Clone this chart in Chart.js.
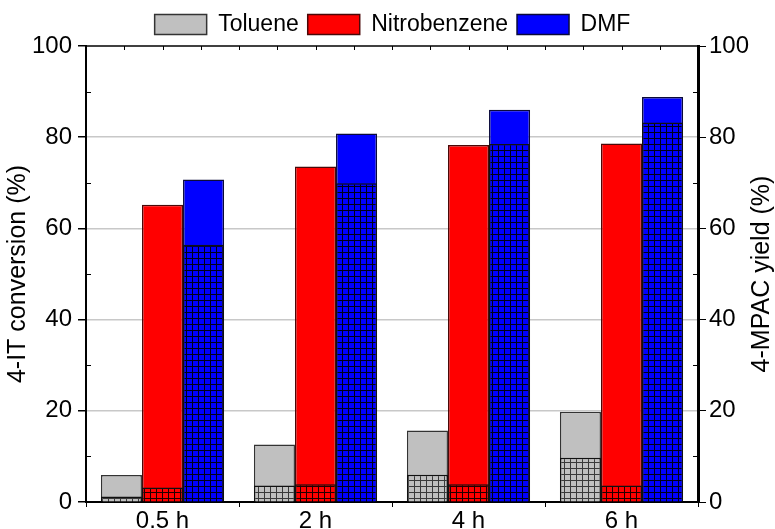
<!DOCTYPE html>
<html>
<head>
<meta charset="utf-8">
<script src="https://cdn.jsdelivr.net/npm/chart.js@4/dist/chart.umd.min.js"></script>
<style>
html, body { margin: 0; padding: 0; background: #fff; }
</style>
</head>
<body>
<canvas id="chart" width="775" height="529"></canvas>
<script>
var times = ['0.5 h', '2 h', '4 h', '6 h'];
var solvents = ['Toluene', 'Nitrobenzene', 'DMF'];

// 4-IT conversion (%)
var convToluene = [5.9, 12.6, 15.7, 19.8];
var convNitro = [65.2, 73.6, 78.3, 78.6];
var convDMF = [70.7, 80.8, 86.0, 88.8];

// 4-MPAC yield (%)
var yieldToluene = [1.2, 3.6, 6.0, 9.7];
var yieldNitro = [3.2, 3.9, 3.9, 3.6];
var yieldDMF = [56.4, 69.9, 78.5, 83.2];

var yTicks = [0, 20, 40, 60, 80, 100];
var yMinor = [10, 30, 50, 70, 90];

var fillColors = ['#c0c0c0', '#ff0000', '#0000ff'];
var edgeColors = ['#333333', '#4a0808', '#0a0a3a'];
var FONT = '"Liberation Sans", Arial, sans-serif';

// grid hatch used for the yield part of each bar
function hatch(color, line) {
    var c = document.createElement('canvas');
    c.width = 6; c.height = 6;
    var g = c.getContext('2d');
    g.fillStyle = color;
    g.fillRect(0, 0, 6, 6);
    g.fillStyle = line;
    g.fillRect(0, 0, 6, 1);
    g.fillRect(0, 0, 1, 6);
    return g.createPattern(c, 'repeat');
}

var convData = [convToluene, convNitro, convDMF];
var yieldData = [yieldToluene, yieldNitro, yieldDMF];
var hatchLines = ['#3a3a3a', '#220000', '#000018'];

var datasets = [];
// yield bars first so they are painted over the conversion bars
for (var i = 0; i < 3; i++) {
    datasets.push({
        label: solvents[i] + ' yield',
        data: yieldData[i],
        stack: solvents[i],
        yAxisID: 'y2',
        backgroundColor: hatch(fillColors[i], hatchLines[i]),
        borderColor: '#111111',
        borderWidth: 1.5,
        barPercentage: 1,
        categoryPercentage: 0.805
    });
}
for (var j = 0; j < 3; j++) {
    datasets.push({
        label: solvents[j],
        data: convData[j],
        stack: solvents[j],
        yAxisID: 'y',
        backgroundColor: fillColors[j],
        borderColor: edgeColors[j],
        borderWidth: 1.5,
        barPercentage: 1,
        categoryPercentage: 0.805
    });
}

// frame: top border, small ticks and the right-hand title
var framePlugin = {
    id: 'frame',
    afterDraw: function(chart) {
        var ctx = chart.ctx;
        var a = chart.chartArea;
        var sx = chart.scales.x, sy = chart.scales.y, sy2 = chart.scales.y2;
        ctx.save();
        ctx.strokeStyle = '#000';
        ctx.lineWidth = 1.5;
        ctx.beginPath();
        ctx.moveTo(a.left, a.top);
        ctx.lineTo(a.right, a.top);
        ctx.stroke();
        ctx.lineWidth = 1;
        ctx.beginPath();
        for (var q = 1; q < 16; q++) {
            var px = Math.round(sx.getPixelForValue(-0.5 + q * 0.25)) + 0.5;
            ctx.moveTo(px, a.top);
            ctx.lineTo(px, a.top + 4);
        }
        yMinor.forEach(function(v) {
            var py = Math.round(sy.getPixelForValue(v)) + 0.5;
            ctx.moveTo(a.left, py);
            ctx.lineTo(a.left + 5, py);
            var py2 = Math.round(sy2.getPixelForValue(v)) + 0.5;
            ctx.moveTo(a.right - 5, py2);
            ctx.lineTo(a.right, py2);
        });
        ctx.stroke();

        ctx.fillStyle = '#000';
        ctx.font = '25px ' + FONT;
        ctx.textAlign = 'center';
        ctx.textBaseline = 'middle';
        ctx.translate(sy2.right - 13, (a.top + a.bottom) / 2);
        ctx.rotate(-Math.PI / 2);
        ctx.fillText('4-MPAC yield (%)', 0, 0);
        ctx.restore();
    }
};

var chart = new Chart(document.getElementById('chart'), {
    type: 'bar',
    data: { labels: times, datasets: datasets },
    plugins: [framePlugin],
    options: {
        responsive: false,
        animation: false,
        layout: { padding: { left: 10, top: 4, right: 0, bottom: 0 } },
        plugins: {
            tooltip: { enabled: false },
            legend: {
                position: 'top',
                labels: {
                    boxWidth: 52,
                    boxHeight: 20,
                    padding: 9,
                    color: '#000',
                    font: { family: FONT, size: 23 },
                    filter: function(item) { return item.datasetIndex >= 3; }
                }
            }
        },
        scales: {
            x: {
                grid: { display: true, drawOnChartArea: false, offset: true, tickLength: 5, color: '#000', lineWidth: 1 },
                border: { color: '#000', width: 2 },
                ticks: { color: '#000', padding: 0, font: { family: FONT, size: 24 } },
                afterFit: function(s) { s.height = 27; }
            },
            y: {
                position: 'left',
                min: 0, max: 100,
                stacked: false,
                afterBuildTicks: function(s) { s.ticks = yTicks.map(function(v) { return { value: v }; }); },
                grid: {
                    color: function(c) { return (c.tick && (c.tick.value === 0 || c.tick.value === 100)) ? 'rgba(0,0,0,0)' : '#c8c8c8'; },
                    lineWidth: 1.5,
                    tickColor: '#000',
                    tickLength: 8
                },
                border: { color: '#000', width: 2 },
                ticks: { color: '#000', padding: 6, font: { family: FONT, size: 24 } },
                title: {
                    display: true,
                    text: '4-IT conversion (%)',
                    color: '#000',
                    font: { family: FONT, size: 25 },
                    padding: { top: -7, bottom: 0 }
                },
                afterFit: function(s) { s.width = 76; }
            },
            y2: {
                position: 'right',
                min: 0, max: 100,
                stacked: false,
                afterBuildTicks: function(s) { s.ticks = yTicks.map(function(v) { return { value: v }; }); },
                grid: { drawOnChartArea: false, tickColor: '#000', tickLength: 8 },
                border: { color: '#000', width: 3 },
                ticks: { color: '#000', padding: 3, font: { family: FONT, size: 24 } },
                afterFit: function(s) { s.width = 77; }
            }
        }
    }
});
</script>
</body>
</html>
